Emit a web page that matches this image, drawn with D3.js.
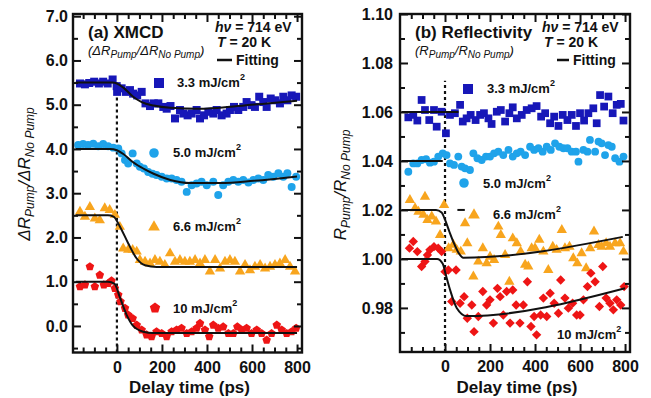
<!DOCTYPE html>
<html>
<head>
<meta charset="utf-8">
<script src="https://cdn.jsdelivr.net/npm/d3@7"></script>
<style>
  body { margin: 0; background: #fff; }
  svg { font-family: "Liberation Sans", Arial, Helvetica, sans-serif; }
  .tick text { font-weight: bold; font-size: 16px; fill: #111; }
  .tick line { stroke: #111; stroke-width: 2; }
</style>
</head>
<body>
<div id="chart"></div>
<script>
// ---- panel (a) XMCD data: delay (ps) and dR_pump/dR_nopump ----
const tA33 = [-164,-142,-123,-101,-80,-61,-41,-19,-1,1,21,40,58,72,90,110,127,147,164,184,206,221,238,258,280,295,314,332,354,369,387,406,428,443,465,487,502,520,539,561,576,598,613,632,650,665,683,702,724,739,757,776,796];
const vA33 = [5.48,5.46,5.49,5.52,5.48,5.52,5.48,5.57,5.42,5.29,5.37,5.29,5.33,5.25,5.21,5.29,5.03,4.97,5.03,5.03,4.95,4.91,4.97,4.69,4.88,4.80,4.76,4.80,4.88,4.69,4.76,4.84,4.80,4.88,4.76,4.80,4.88,4.95,4.88,4.95,5.06,4.99,4.95,5.18,5.06,4.95,5.14,5.10,5.03,5.18,5.10,5.21,5.18];
const tA50 = [-172,-150,-128,-105,-83,-61,-39,-16,6,21,36,50,70,88,102,120,139,158,176,199,221,243,265,287,310,332,354,376,399,428,450,472,495,517,539,561,584,606,628,650,672,695,717,739,757,776,796];
const vA50 = [4.09,4.11,4.09,4.12,4.06,4.11,4.06,4.03,4.01,3.90,3.75,3.67,3.90,3.67,3.60,3.56,3.48,3.44,3.41,3.37,3.33,3.33,3.30,3.26,3.03,3.18,3.22,3.26,3.18,3.26,2.96,3.18,3.26,3.30,3.26,3.30,3.24,3.30,3.33,3.30,3.41,3.37,3.45,3.37,3.45,3.14,3.37];
const tA66 = [-164,-142,-120,-98,-76,-54,-32,-9,13,28,50,70,88,102,125,147,169,191,213,236,258,280,302,324,347,369,391,413,436,458,480,502,524,547,569,591,613,636,658,680,702,724,747,769,791];
const vA66 = [2.58,2.47,2.69,2.43,2.39,2.66,2.62,2.51,2.24,1.75,1.72,1.72,1.68,1.49,1.45,1.41,1.49,1.45,1.38,1.64,1.45,1.49,1.45,1.45,1.49,1.41,1.49,1.23,1.49,1.30,1.45,1.49,1.45,1.23,1.38,1.26,1.34,1.38,1.30,1.34,1.38,1.41,1.49,1.34,1.23];
const tA10 = [-164,-142,-120,-98,-76,-58,-39,-24,-9,6,16,36,50,70,88,110,132,154,176,199,221,243,265,287,310,332,354,369,391,410,428,450,472,495,517,535,554,576,598,621,643,665,687,710,732,754,776,796];
const vA10 = [0.89,0.93,1.34,0.89,1.15,0.93,0.96,1.02,0.85,0.70,0.55,0.40,0.25,0.17,0.02,-0.09,-0.20,-0.24,-0.13,-0.17,-0.24,-0.13,-0.09,-0.05,-0.17,-0.13,-0.05,0.06,-0.09,-0.24,0.02,-0.05,-0.02,-0.17,-0.17,-0.02,-0.09,-0.05,-0.17,-0.09,-0.17,-0.32,-0.17,0.02,-0.09,-0.17,-0.13,-0.05];

// fitting curves, panel (a)
const fitA33T = [-183,-20,0,30,72,110,163,237,370,518,667,800];
const fitA33V = [5.5,5.5,5.48,5.38,5.18,5.06,4.98,4.93,4.91,4.96,5.03,5.09];
const fitA50T = [-183,-30,0,30,72,120,163,237,326,459,607,800];
const fitA50V = [4.0,4.0,3.97,3.88,3.7,3.55,3.44,3.3,3.23,3.23,3.28,3.38];
const fitA66T = [-183,-40,-15,13,50,87,125,177,800];
const fitA66V = [2.5,2.5,2.47,2.25,1.87,1.53,1.37,1.33,1.33];
const fitA10T = [-183,-40,-10,13,43,72,117,160,800];
const fitA10V = [1.0,1.0,0.95,0.65,0.25,0.0,-0.13,-0.16,-0.16];

// ---- panel (b) reflectivity data: delay (ps) and R_pump/R_nopump ----
const tB33 = [-163,-141,-123,-104,-89,-70,-49,-37,-15,4,22,44,67,79,96,114,136,156,173,193,207,230,248,267,286,301,319,341,363,385,407,427,445,467,485,504,523,544,563,582,600,618,637,659,674,689,707,726,745,763,781,793];
const vB33 = [1.0578,1.0588,1.0565,1.0649,1.0608,1.0567,1.0608,1.0540,1.0601,1.0513,1.0588,1.0595,1.0629,1.0561,1.0574,1.0588,1.0567,1.0588,1.0595,1.0574,1.0551,1.0601,1.0608,1.0561,1.0595,1.0619,1.0574,1.0588,1.0608,1.0615,1.0624,1.0581,1.0595,1.0554,1.0581,1.0543,1.0588,1.0567,1.0588,1.0543,1.0595,1.0565,1.0595,1.0615,1.0554,1.0669,1.0622,1.0663,1.0595,1.0629,1.0633,1.0565];
const tB50 = [-163,-141,-123,-104,-84,-67,-49,-30,-10,7,22,40,59,74,89,111,126,144,163,182,200,218,237,259,282,301,319,336,356,378,396,415,434,452,470,489,508,526,544,563,582,593,615,633,644,667,682,696,711,726,741,756,775,793];
const vB50 = [1.0356,1.0390,1.0390,1.0404,1.0407,1.0393,1.0397,1.0418,1.0431,1.0424,1.0390,1.0384,1.0418,1.0377,1.0370,1.0363,1.0431,1.0411,1.0404,1.0418,1.0418,1.0431,1.0438,1.0424,1.0445,1.0418,1.0431,1.0438,1.0424,1.0458,1.0445,1.0452,1.0438,1.0458,1.0445,1.0472,1.0458,1.0452,1.0452,1.0438,1.0438,1.0397,1.0445,1.0438,1.0486,1.0438,1.0479,1.0472,1.0424,1.0465,1.0458,1.0411,1.0397,1.0418];
const tB66 = [-156,-133,-118,-96,-89,-78,-59,-40,-22,-4,16,37,52,70,89,99,126,148,168,185,200,218,237,248,267,286,301,319,336,356,370,385,400,419,437,459,479,496,519,533,553,570,588,607,627,645,662,682,696,716,733,756,778,793];
const vB66 = [1.0241,1.0207,1.0193,1.0180,1.0254,1.0159,1.0173,1.0153,1.0098,1.0220,1.0044,1.0058,1.0037,1.0030,1.0146,1.0064,0.9928,0.9989,1.0044,0.9982,1.0009,0.9996,1.0132,1.0098,1.0016,0.9907,1.0084,1.0064,1.0030,0.9976,0.9969,1.0044,1.0044,1.0078,1.0030,0.9955,1.0050,1.0037,1.0118,1.0044,1.0050,1.0003,0.9982,1.0023,0.9962,1.0044,1.0112,1.0057,1.0050,1.0064,1.0050,1.0064,1.0064,1.0030];
const tB10 = [-158,-141,-123,-104,-89,-78,-67,-49,-30,-15,0,15,30,49,67,85,99,119,129,148,168,185,200,215,233,245,259,274,289,301,316,333,348,366,382,396,407,425,437,452,467,485,504,514,533,548,567,585,600,615,633,648,667,686,701,716,733,748,763,781,796];
const vB10 = [1.0044,1.0071,1.0030,0.9969,0.9989,1.0016,1.0037,1.0050,1.0044,1.0030,0.9948,0.9955,0.9826,0.9955,0.9819,0.9846,0.9758,0.9812,0.9703,0.9765,0.9867,0.9812,0.9833,0.9738,0.9880,0.9846,0.9771,0.9867,0.9738,0.9873,0.9812,0.9738,0.9812,0.9907,0.9724,0.9765,0.9690,0.9771,0.9840,0.9765,0.9860,0.9819,0.9778,0.9914,0.9840,0.9799,0.9819,0.9771,0.9771,0.9833,0.9887,0.9942,0.9907,0.9806,0.9969,0.9840,0.9819,0.9792,0.9833,0.9812,0.9887];

// fitting curves, panel (b)
const fitB33T = [-193,60];
const fitB33V = [1.06,1.06];
const fitB50T = [-193,-10];
const fitB50V = [1.04,1.04];
const fitB66T = [-193,-40,-15,0,20,37,60,81,790];
const fitB66V = [1.02,1.02,1.019,1.016,1.011,1.007,1.0025,1.0005,1.009];
const fitB66StubT = [55,88];
const fitB66StubV = [1.02,1.02];
const fitB10T = [-193,-35,-10,5,22,52,96,800];
const fitB10V = [1.0,1.0,0.998,0.993,0.9875,0.98,0.9767,0.988];

// tick values
const xMajor = [0, 200, 400, 600, 800];
const xMinor = [-150,-100,-50,50,100,150,250,300,350,450,500,550,650,700,750];
const yMajorA = [0,1,2,3,4,5,6,7];
const yMinorA = [-0.5,0.5,1.5,2.5,3.5,4.5,5.5,6.5];
const yMajorB = [0.98,1.00,1.02,1.04,1.06,1.08,1.10];
const yMinorB = [0.97,0.99,1.01,1.03,1.05,1.07,1.09];

const c33 = "#1717b8", c50 = "#1fa3ea", c66 = "#f8a51e", c10 = "#ee1515";

const symbolPentagon = {
  draw(ctx, size) {
    const r = Math.sqrt(size / 2.378);
    for (let i = 0; i < 5; i++) {
      const a = -Math.PI / 2 + i * 2 * Math.PI / 5;
      if (i) ctx.lineTo(r * Math.cos(a), r * Math.sin(a)); else ctx.moveTo(r * Math.cos(a), r * Math.sin(a));
    }
    ctx.closePath();
  }
};
const symbolRhomb = {
  draw(ctx, size) {
    const r = Math.sqrt(size / 2);
    ctx.moveTo(0, -r); ctx.lineTo(r, 0); ctx.lineTo(0, r); ctx.lineTo(-r, 0); ctx.closePath();
  }
};

const svg = d3.select("#chart").append("svg").attr("width", 651).attr("height", 398);

function drawPanel(p) {
  const g = svg.append("g");
  const x = d3.scaleLinear().domain(p.xDomain).range([p.left, p.right]);
  const y = d3.scaleLinear().domain(p.yDomain).range([p.bottom, p.top]);

  // zero-delay dotted line
  g.append("line")
    .attr("x1", x(0)).attr("x2", x(0))
    .attr("y1", y(p.yDomain[0])).attr("y2", y(p.zeroTop))
    .attr("stroke", "#111").attr("stroke-width", 2.2).attr("stroke-dasharray", "3,3");

  // data markers
  p.series.forEach(s => {
    g.append("g").selectAll("path")
      .data(d3.zip(s.t, s.v))
      .join("path")
      .attr("transform", d => `translate(${x(d[0])},${y(d[1])})`)
      .attr("d", d3.symbol(s.shape, s.size))
      .attr("fill", s.color);
  });

  // fitting lines
  const line = d3.line().x(d => x(d[0])).y(d => y(d[1])).curve(d3.curveMonotoneX);
  p.fits.forEach(f => {
    g.append("path").attr("d", line(d3.zip(f[0], f[1])))
      .attr("fill", "none").attr("stroke", "#111").attr("stroke-width", 2);
  });

  // axes: ticks inward, mirrored
  const addAxis = (axis, tx, ty) => {
    const a = g.append("g").attr("transform", `translate(${tx},${ty})`).call(axis);
    a.select(".domain").remove();
    return a;
  };
  addAxis(d3.axisBottom(x).tickValues(xMajor).tickSize(-8).tickPadding(9).tickFormat(d3.format("d")), 0, p.bottom);
  addAxis(d3.axisBottom(x).tickValues(xMinor).tickSize(-5).tickFormat(""), 0, p.bottom);
  addAxis(d3.axisTop(x).tickValues(xMajor).tickSize(-8).tickFormat(""), 0, p.top);
  addAxis(d3.axisTop(x).tickValues(xMinor).tickSize(-5).tickFormat(""), 0, p.top);
  addAxis(d3.axisLeft(y).tickValues(p.yMajor).tickSize(-8).tickPadding(p.yPad).tickFormat(d3.format(p.yFmt)), p.left, 0);
  addAxis(d3.axisLeft(y).tickValues(p.yMinor).tickSize(-5).tickFormat(""), p.left, 0);
  addAxis(d3.axisRight(y).tickValues(p.yMajor).tickSize(-8).tickFormat(""), p.right, 0);
  addAxis(d3.axisRight(y).tickValues(p.yMinor).tickSize(-5).tickFormat(""), p.right, 0);

  // frame
  g.append("rect")
    .attr("x", p.left).attr("y", p.top)
    .attr("width", p.right - p.left).attr("height", p.bottom - p.top)
    .attr("fill", "none").attr("stroke", "#111").attr("stroke-width", 2.4);

  // x title
  g.append("text").attr("x", (p.left + p.right) / 2 + 2).attr("y", 393)
    .attr("text-anchor", "middle").attr("font-size", 17).attr("font-weight", "bold")
    .attr("fill", "#111").text("Delay time (ps)");

  // y title
  const yt = g.append("text")
    .attr("transform", `translate(${p.yTitleX},${p.yTitleY}) rotate(-90)`)
    .attr("text-anchor", "middle").attr("font-style", "italic").attr("fill", "#111");
  p.yTitle.forEach(([txt, sub], i) => {
    yt.append("tspan").attr("font-size", 17).attr("dy", i ? -4 : 0).text((i ? "/" : "") + txt);
    yt.append("tspan").attr("font-size", 12).attr("dy", 4).text(sub);
  });

  // panel heading
  g.append("text").attr("x", p.left + 15).attr("y", 38)
    .attr("font-size", 17).attr("font-weight", "bold").attr("fill", "#111").text(p.heading);
  const sh = g.append("text").attr("x", p.left + 15).attr("y", 55)
    .attr("font-size", 13).attr("font-style", "italic").attr("fill", "#111");
  sh.append("tspan").text("(");
  p.yTitle.forEach(([txt, sub], i) => {
    sh.append("tspan").attr("dy", i ? -3 : 0).text((i ? "/" : "") + txt);
    sh.append("tspan").attr("font-size", 10).attr("dy", 3).text(sub);
  });
  sh.append("tspan").attr("dy", -3).text(")");

  // conditions block
  const cx = p.condX;
  const hv = g.append("text").attr("x", cx).attr("y", 32).attr("font-size", 14)
    .attr("font-weight", "bold").attr("fill", "#111");
  hv.append("tspan").attr("font-style", "italic").text("h\u03bd");
  hv.append("tspan").text(" = 714 eV");
  const tt = g.append("text").attr("x", cx + 2).attr("y", 47).attr("font-size", 14)
    .attr("font-weight", "bold").attr("fill", "#111");
  tt.append("tspan").attr("font-style", "italic").text("T");
  tt.append("tspan").text(" = 20 K");
  g.append("line").attr("x1", p.fitKeyX).attr("x2", p.fitKeyX + p.fitKeyW)
    .attr("y1", 60).attr("y2", 60).attr("stroke", "#111").attr("stroke-width", 2.5);
  g.append("text").attr("x", p.fitKeyX + p.fitKeyW + 4).attr("y", 65).attr("font-size", 14)
    .attr("font-weight", "bold").attr("fill", "#111").text("Fitting");

  // series labels
  p.labels.forEach(l => {
    if (l.shape) {
      g.append("path").attr("transform", `translate(${l.mx},${l.my})`)
        .attr("d", d3.symbol(l.shape, l.size)).attr("fill", l.color);
    }
    const t = g.append("text").attr("x", l.tx).attr("y", l.ty).attr("font-size", 13)
      .attr("font-weight", "bold").attr("fill", "#111");
    t.append("tspan").text(l.text + " mJ/cm");
    t.append("tspan").attr("font-size", 9).attr("dy", -7).text("2");
  });
}

drawPanel({
  left: 73, right: 302, top: 14, bottom: 352.5,
  xDomain: [-195, 822], yDomain: [-0.6, 7.05],
  yMajor: yMajorA, yMinor: yMinorA, yFmt: ".1f", yPad: 5,
  zeroTop: 5.51,
  series: [
    { t: tA33, v: vA33, shape: d3.symbolSquare, size: 64, color: c33 },
    { t: tA50, v: vA50, shape: d3.symbolCircle, size: 50, color: c50 },
    { t: tA66, v: vA66, shape: d3.symbolTriangle, size: 46, color: c66 },
    { t: tA10, v: vA10, shape: symbolPentagon, size: 48, color: c10 }
  ],
  fits: [[fitA33T, fitA33V], [fitA50T, fitA50V], [fitA66T, fitA66V], [fitA10T, fitA10V]],
  yTitle: [["\u0394R", "Pump"], ["\u0394R", "No Pump"]],
  yTitleX: 30, yTitleY: 174,
  heading: "(a) XMCD",
  condX: 215, fitKeyX: 217, fitKeyW: 15,
  labels: [
    { shape: d3.symbolSquare, size: 100, color: c33, mx: 159, my: 83, tx: 177, ty: 87, text: "3.3" },
    { shape: d3.symbolCircle, size: 72, color: c50, mx: 154, my: 153, tx: 173, ty: 157, text: "5.0" },
    { shape: d3.symbolTriangle, size: 60, color: c66, mx: 154, my: 227, tx: 173, ty: 231, text: "6.6" },
    { shape: symbolPentagon, size: 70, color: c10, mx: 155, my: 308, tx: 173, ty: 313, text: "10" }
  ]
});

drawPanel({
  left: 400, right: 630, top: 14, bottom: 352,
  xDomain: [-200, 822], yDomain: [0.962, 1.10],
  yMajor: yMajorB, yMinor: yMinorB, yFmt: ".2f", yPad: 7,
  zeroTop: 1.0727,
  series: [
    { t: tB33, v: vB33, shape: d3.symbolSquare, size: 60, color: c33 },
    { t: tB50, v: vB50, shape: d3.symbolCircle, size: 48, color: c50 },
    { t: tB66, v: vB66, shape: d3.symbolTriangle, size: 46, color: c66 },
    { t: tB10, v: vB10, shape: symbolRhomb, size: 44, color: c10 }
  ],
  fits: [[fitB33T, fitB33V], [fitB50T, fitB50V], [fitB66T, fitB66V], [fitB66StubT, fitB66StubV], [fitB10T, fitB10V]],
  yTitle: [["R", "Pump"], ["R", "No Pump"]],
  yTitleX: 346, yTitleY: 185,
  heading: "(b) Reflectivity",
  condX: 542, fitKeyX: 557, fitKeyW: 12,
  labels: [
    { shape: d3.symbolSquare, size: 100, color: c33, mx: 468, my: 89, tx: 487, ty: 93, text: "3.3" },
    { shape: d3.symbolCircle, size: 72, color: c50, mx: 464, my: 183, tx: 483, ty: 188, text: "5.0" },
    { shape: d3.symbolTriangle, size: 60, color: c66, mx: 474, my: 215, tx: 493, ty: 219, text: "6.6" },
    { shape: null, tx: 557, ty: 339, text: "10" }
  ]
});
</script>
</body>
</html>
